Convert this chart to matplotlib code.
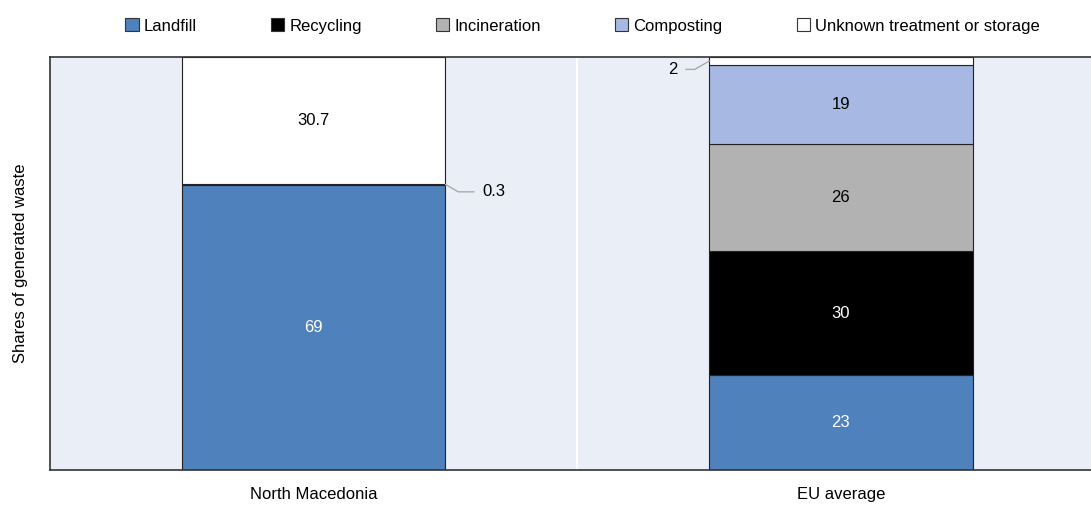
import matplotlib.pyplot as plt
from matplotlib.patches import Patch
import numpy as np

plt.rcParams['font.family'] = ['Liberation Sans Narrow', 'Liberation Sans', 'DejaVu Sans']

countries = ["North Macedonia", "EU average"]
treatments = ["Landfill", "Recycling", "Incineration", "Composting",
              "Unknown treatment or storage"]
shares = {
    "Landfill": [69, 23],
    "Recycling": [0.3, 30],
    "Incineration": [0, 26],
    "Composting": [0, 19],
    "Unknown treatment or storage": [30.7, 2],
}
labels = {
    "Landfill": ["69", "23"],
    "Recycling": ["0.3", "30"],
    "Incineration": ["", "26"],
    "Composting": ["", "19"],
    "Unknown treatment or storage": ["30.7", "2"],
}
colors = ["#4F81BD", "#000000", "#B2B2B2", "#A7B9E2", "#FFFFFF"]
text_colors = ["white", "white", "black", "black", "black"]
FS = 12


def main():
    fig = plt.figure(figsize=(10.91, 5.07), dpi=100)
    ax = fig.add_axes([50 / 1091, 1 - 470 / 507, 1054.5 / 1091, 413 / 507])
    ax.set_facecolor("#EAEEF6")

    x = np.arange(len(countries))
    bottom = np.zeros(len(countries))
    for name, col, tcol in zip(treatments, colors, text_colors):
        vals = np.array(shares[name], dtype=float)
        ax.bar(x, vals, 0.5, bottom=bottom, color=col,
               edgecolor="#222222", linewidth=0.8, zorder=2)
        for i, v in enumerate(vals):
            if v >= 5:
                ax.text(x[i], bottom[i] + v / 2, labels[name][i],
                        ha="center", va="center", fontsize=FS, color=tcol, zorder=3)
        bottom += vals

    # small segments get a label off to the side with a leader line
    y_rec = shares["Landfill"][0] + shares["Recycling"][0] / 2
    ax.annotate(labels["Recycling"][0], xy=(0.25, y_rec), xytext=(0.32, y_rec - 1.8),
                ha="left", va="center", fontsize=FS,
                arrowprops=dict(arrowstyle="-", color="#AAAAAA", lw=1,
                                connectionstyle="angle,angleA=0,angleB=-30,rad=0",
                                shrinkA=4, shrinkB=0))
    y_unk = 100 - shares["Unknown treatment or storage"][1] / 2
    ax.annotate(labels["Unknown treatment or storage"][1], xy=(0.75, y_unk),
                xytext=(0.69, y_unk - 2), ha="right", va="center", fontsize=FS,
                arrowprops=dict(arrowstyle="-", color="#AAAAAA", lw=1,
                                connectionstyle="angle,angleA=0,angleB=30,rad=0",
                                shrinkA=4, shrinkB=0))

    ax.axvline(0.5, color="white", lw=1.5, zorder=1)
    ax.set_xlim(-0.5, 1.5)
    ax.set_ylim(0, 100)
    ax.set_xticks(x)
    ax.set_xticklabels(countries, fontsize=FS)
    ax.tick_params(axis="x", length=0, pad=12)
    ax.set_yticks([])
    ax.set_ylabel("Shares of generated waste", fontsize=FS, labelpad=16)
    for side in ["left", "top", "bottom"]:
        ax.spines[side].set_color("#333333")
        ax.spines[side].set_linewidth(1.2)
    ax.spines["right"].set_visible(False)

    handles = [Patch(facecolor=c, edgecolor="#333333", linewidth=0.8) for c in colors]
    fig.legend(handles, treatments, loc="center", bbox_to_anchor=(0.534, 1 - 26 / 507),
               ncol=5, frameon=False, fontsize=FS, handlelength=0.8, handleheight=0.8,
               handletextpad=0.3, columnspacing=4.45)

    fig.savefig("out.png", dpi=100)


if __name__ == "__main__":
    main()
